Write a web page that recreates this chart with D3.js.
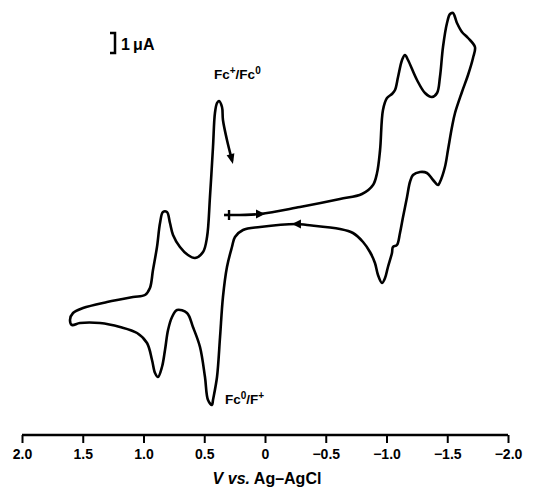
<!DOCTYPE html>
<html>
<head>
<meta charset="utf-8">
<script src="https://cdn.jsdelivr.net/npm/d3@7"></script>
<style>
  body { margin: 0; background: #fff; }
  svg { display: block; }
</style>
</head>
<body>
<div id="chart"></div>
<script>
// cyclic voltammogram, scan starts near +0.3 V and goes negative first
var potential = [
  0.296, 0.041, -0.288, -0.617, -0.798, -0.889, -0.922, -0.947, -0.971, -1.004,
  -1.045, -1.070, -1.095, -1.128, -1.152, -1.177, -1.251, -1.317, -1.374, -1.416,
  -1.440, -1.465, -1.498, -1.523, -1.547, -1.580, -1.621, -1.671, -1.728, -1.712,
  -1.671, -1.621, -1.564, -1.539, -1.506, -1.481, -1.440, -1.424, -1.383, -1.333,
  -1.276, -1.218, -1.193, -1.169, -1.136, -1.111, -1.086, -1.053, -1.045, -1.012,
  -0.988, -0.963, -0.930, -0.905, -0.864, -0.807, -0.724, -0.617, -0.346, -0.263,
  0.041, 0.181, 0.247, 0.272, 0.313, 0.346, 0.370, 0.395, 0.428, 0.436,
  0.469, 0.494, 0.535, 0.593, 0.642, 0.724, 0.765, 0.798, 0.823, 0.848,
  0.881, 0.905, 0.930, 0.971, 1.053, 1.193, 1.358, 1.523, 1.588, 1.605,
  1.580, 1.498, 1.300, 1.086, 0.988, 0.947, 0.922, 0.889, 0.864, 0.840,
  0.807, 0.782, 0.757, 0.700, 0.634, 0.576, 0.510, 0.477, 0.453, 0.428,
  0.412, 0.395, 0.379, 0.354, 0.346, 0.313, 0.272
];
var current = [
  0, 0.05, 0.4, 0.8, 1.05, 1.5, 2.1, 3.25, 5.25, 5.85,
  6.05, 6.25, 6.9, 7.75, 8.0, 7.75, 6.75, 6.1, 5.9, 6.1,
  6.9, 8.4, 9.6, 10.05, 10.1, 9.6, 9.15, 8.85, 8.4, 7.85,
  7.0, 6.15, 5.1, 4.4, 3.25, 2.4, 1.65, 1.5, 1.75, 2.1,
  2.15, 2.0, 1.65, 0.9, -0.1, -0.9, -1.5, -1.6, -1.9, -2.6,
  -3.15, -3.4, -3.0, -2.4, -1.85, -1.35, -0.9, -0.7, -0.5, -0.45,
  -0.6, -0.75, -1.1, -1.6, -2.6, -4.1, -6.1, -8.1, -9.25, -9.5,
  -9.25, -8.1, -6.6, -5.6, -4.9, -4.75, -5.1, -5.75, -6.75, -7.6,
  -8.1, -7.9, -7.25, -6.4, -5.9, -5.6, -5.4, -5.4, -5.5, -5.25,
  -4.9, -4.65, -4.35, -4.1, -4.0, -3.65, -2.75, -1.6, -0.4, 0.15,
  0.15, -0.4, -1.0, -1.6, -2.0, -2.15, -1.85, -1.1, 0.9, 3.4,
  5.1, 5.6, 5.7, 5.4, 4.75, 3.75, 2.75
];

// arrows along the scan: [potential, current, direction]
var arrowV = [0.041, -0.263];
var arrowI = [0.05, -0.45];
var arrowDir = ["right", "left"];

var tickValues = [2.0, 1.5, 1.0, 0.5, 0, -0.5, -1.0, -1.5, -2.0];
var tickLabels = ["2.0", "1.5", "1.0", "0.5", "0", "\u22120.5", "\u22121.0", "\u22121.5", "\u22122.0"];

var width = 534, height = 497;

var x = d3.scaleLinear().domain([2.0, -2.0]).range([22, 508]);
var y = d3.scaleLinear().domain([-10, 10]).range([415, 15]);

var svg = d3.select("#chart").append("svg")
    .attr("width", width)
    .attr("height", height)
    .style("font-family", "'Liberation Sans', Arial, sans-serif");

var pts = potential.map((v, i) => [v, current[i]]);

var line = d3.line()
    .x(d => x(d[0]))
    .y(d => y(d[1]))
    .curve(d3.curveCatmullRom.alpha(0.5));

svg.append("path")
    .datum(pts)
    .attr("d", line)
    .attr("fill", "none")
    .attr("stroke", "#000")
    .attr("stroke-width", 2.6)
    .attr("stroke-linejoin", "round")
    .attr("stroke-linecap", "round");

// start marker: short cross bar where the scan starts
var sx = x(potential[0]), sy = y(current[0]);
svg.append("line")
    .attr("x1", sx - 5).attr("x2", sx)
    .attr("y1", sy).attr("y2", sy)
    .attr("stroke", "#000").attr("stroke-width", 2.6);
svg.append("line")
    .attr("x1", sx).attr("x2", sx)
    .attr("y1", sy - 5).attr("y2", sy + 5)
    .attr("stroke", "#000").attr("stroke-width", 2.4);

// arrowheads on the baseline
arrowV.forEach(function(v, i) {
  var ax = x(v), ay = y(arrowI[i]);
  var s = arrowDir[i] === "right" ? 1 : -1;
  svg.append("path")
      .attr("d", `M${ax + 5 * s},${ay} L${ax - 4 * s},${ay - 4.5} L${ax - 4 * s},${ay + 4.5} Z`)
      .attr("fill", "#000");
});

// arrowhead at the end of the scan
var n = potential.length;
var ex = x(potential[n - 1]), ey = y(current[n - 1]);
var px = x(potential[n - 2]), py = y(current[n - 2]);
var ang = Math.atan2(ey - py, ex - px) * 180 / Math.PI;
svg.append("path")
    .attr("transform", `translate(${ex},${ey}) rotate(${ang})`)
    .attr("d", "M4,0 L-6,-4 L-6,4 Z")
    .attr("fill", "#000");

// peak labels
var lab1 = svg.append("text")
    .attr("x", 214).attr("y", 79)
    .style("font-size", "13.5px").style("font-weight", "bold");
lab1.append("tspan").text("Fc");
lab1.append("tspan").attr("dy", -5).style("font-size", "10px").text("+");
lab1.append("tspan").attr("dy", 5).text("/Fc");
lab1.append("tspan").attr("dy", -5).style("font-size", "10px").text("0");

var lab2 = svg.append("text")
    .attr("x", 225).attr("y", 404)
    .style("font-size", "13.5px").style("font-weight", "bold");
lab2.append("tspan").text("Fc");
lab2.append("tspan").attr("dy", -5).style("font-size", "10px").text("0");
lab2.append("tspan").attr("dy", 5).text("/F");
lab2.append("tspan").attr("dy", -5).style("font-size", "10px").text("+");

// scale bar: 1 uA
var barTop = 9.1;
svg.append("path")
    .attr("d", `M110,${y(barTop)} H115 V${y(barTop - 1)} H110`)
    .attr("fill", "none")
    .attr("stroke", "#000")
    .attr("stroke-width", 2.5);
svg.append("text")
    .attr("x", 121).attr("y", y(barTop - 1) - 3)
    .style("font-size", "16px").style("font-weight", "bold")
    .text("1\u2009\u03bcA");

// bottom axis
var axisY = 435;
var axis = d3.axisBottom(x)
    .tickValues(tickValues)
    .tickSize(8)
    .tickPadding(6)
    .tickFormat((d, i) => tickLabels[i]);

var gx = svg.append("g")
    .attr("transform", `translate(0,${axisY})`)
    .call(axis);
gx.select(".domain").attr("stroke-width", 2.4).attr("d", `M${x(2.0)},0H${x(-2.0)}`);
gx.selectAll(".tick line").attr("stroke-width", 2);
gx.selectAll(".tick text")
    .style("font-family", "'Liberation Sans', Arial, sans-serif")
    .style("font-size", "14px")
    .style("font-weight", "bold")
    .attr("fill", "#000");

var title = svg.append("text")
    .attr("x", 267).attr("y", 484)
    .attr("text-anchor", "middle")
    .style("font-size", "16px")
    .style("font-weight", "bold");
title.append("tspan").style("font-style", "italic").text("V vs.");
title.append("tspan").text(" Ag\u2013AgCl");
</script>
</body>
</html>
